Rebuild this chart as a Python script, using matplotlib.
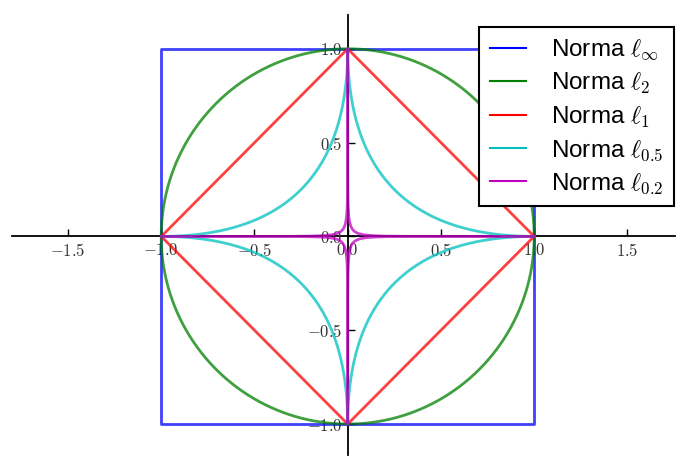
import numpy as np
import matplotlib.pyplot as plt
from matplotlib.ticker import FuncFormatter, MultipleLocator

# unit balls of the l_p norms
norm_p = [np.inf, 2, 1, 0.5, 0.2]
norm_labels = [r'Norma $\ell_\infty$', r'Norma $\ell_2$', r'Norma $\ell_1$',
               r'Norma $\ell_{0.5}$', r'Norma $\ell_{0.2}$']
norm_colors = [(0, 0, 1), (0, 0.5, 0), (1, 0, 0), (0, 0.75, 0.75), (0.75, 0, 0.75)]

plt.rcParams.update({
    "mathtext.fontset": "cm",
    "font.family": ["Liberation Sans", "DejaVu Sans"],
    "xtick.direction": "in",
    "ytick.direction": "in",
})


def unit_ball(p, n=2000):
    if np.isinf(p):
        x = np.array([1, 1, -1, -1, 1])
        y = np.array([1, -1, -1, 1, 1])
        return x, y
    t = np.linspace(0, 2 * np.pi, n)
    c, s = np.cos(t), np.sin(t)
    x = np.sign(c) * np.abs(c) ** (2.0 / p)
    y = np.sign(s) * np.abs(s) ** (2.0 / p)
    return x, y


fig = plt.figure(figsize=(6.76, 4.58), dpi=100)
ax = fig.add_axes([12 / 676, 3 / 458, 663 / 676, 440 / 458])

for p, lab, col in zip(norm_p, norm_labels, norm_colors):
    x, y = unit_ball(p)
    ax.plot(x, y, color=col, lw=2, alpha=0.75, label=lab)

ax.set_xlim(-1.8, 1.755)
ax.set_ylim(-1.165, 1.18)

ax.spines['left'].set_position(('data', 0))
ax.spines['bottom'].set_position(('data', 0))
ax.spines['right'].set_visible(False)
ax.spines['top'].set_visible(False)
for sp in ('left', 'bottom'):
    ax.spines[sp].set_linewidth(1.3)
    ax.spines[sp].set_zorder(1)

ax.xaxis.set_major_locator(MultipleLocator(0.5))
ax.yaxis.set_major_locator(MultipleLocator(0.5))
fmt = FuncFormatter(lambda v, pos: r'$%.1f$' % v)
ax.xaxis.set_major_formatter(fmt)
ax.yaxis.set_major_formatter(fmt)
ax.tick_params(labelsize=12, length=5, width=1, pad=4, colors='black')
for lbl in ax.get_xticklabels() + ax.get_yticklabels():
    lbl.set_color('#333333')

leg = ax.legend(loc='upper right', bbox_to_anchor=(674 / 676, 1 - 27 / 458),
                bbox_transform=fig.transFigure, borderaxespad=0,
                fontsize=17.5, fancybox=False, handlelength=1.48,
                handletextpad=1.03, labelspacing=0.35, borderpad=0.45,
                framealpha=1)
leg.get_frame().set_edgecolor('black')
leg.get_frame().set_linewidth(1.5)
for line in leg.get_lines():
    line.set_alpha(1)
    line.set_linewidth(1.5)

fig.savefig("out.png", dpi=100)
